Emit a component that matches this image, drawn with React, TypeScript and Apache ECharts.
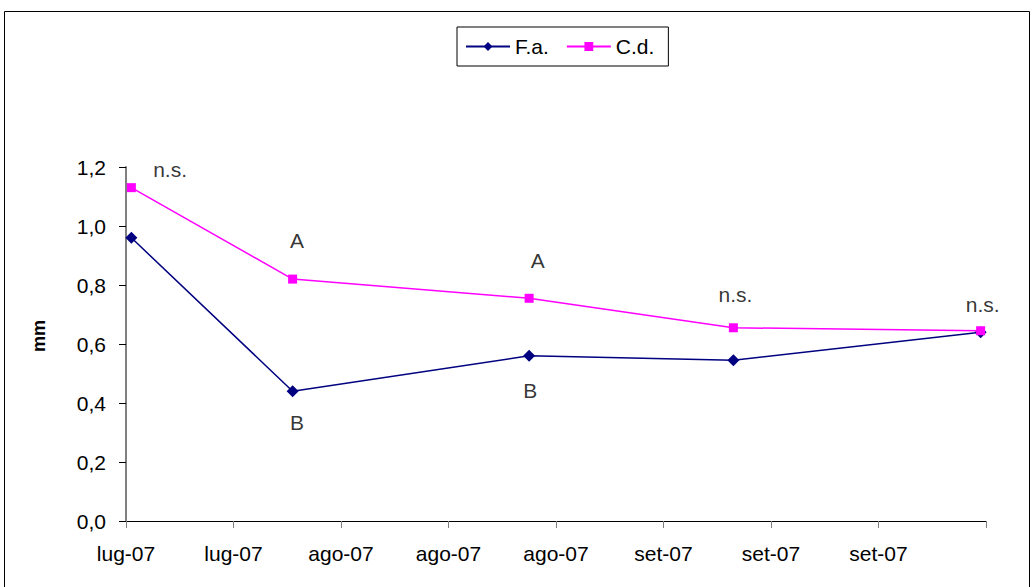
import React, { useEffect, useRef } from "react";
import * as echarts from "echarts";

const xLabels = ["lug-07", "lug-07", "ago-07", "ago-07", "ago-07", "set-07", "set-07", "set-07", ""];
const days = [0.5, 15.5, 37.5, 56.5, 79.5];
const faValues = [0.96, 0.44, 0.56, 0.545, 0.64];
const cdValues = [1.13, 0.82, 0.755, 0.655, 0.645];
const yTicks = [0, 0.2, 0.4, 0.6, 0.8, 1.0, 1.2];
const annotations: { x: number; y: number; text: string }[] = [
  { x: 4.1, y: 1.19, text: "n.s." },
  { x: 15.9, y: 0.95, text: "A" },
  { x: 15.9, y: 0.335, text: "B" },
  { x: 38.3, y: 0.883, text: "A" },
  { x: 37.6, y: 0.444, text: "B" },
  { x: 56.7, y: 0.768, text: "n.s." },
  { x: 79.7, y: 0.734, text: "n.s." },
];

const FONT = "'Liberation Sans', Arial, sans-serif";
const FS = 21;

export default function App() {
  const ref = useRef<HTMLDivElement>(null);
  useEffect(() => {
    if (!ref.current) return;
    const chart = echarts.init(ref.current, undefined, { renderer: "svg" });
    chart.setOption({
      animation: false,
      backgroundColor: "#ffffff",
      textStyle: { fontFamily: FONT },
      graphic: [
        {
          type: "rect",
          shape: { x: 4.5, y: 11.5, width: 1025, height: 600 },
          style: { fill: "none", stroke: "#000", lineWidth: 1 },
          silent: true,
        },
      ],
      legend: {
        left: 457,
        top: 27,
        orient: "horizontal",
        borderColor: "#000",
        borderWidth: 1,
        padding: [9, 14, 9, 8],
        itemGap: 17,
        itemWidth: 44,
        itemHeight: 11,
        textStyle: { fontSize: FS, color: "#000", fontFamily: FONT },
        data: ["F.a.", "C.d."],
      },
      grid: { left: 126, right: 46, top: 167, bottom: 66, containLabel: false },
      xAxis: {
        type: "value",
        min: 0,
        max: 80,
        interval: 10,
        axisLine: { show: true, lineStyle: { color: "#000", width: 1 } },
        axisTick: { show: true, length: 7, lineStyle: { color: "#808080" } },
        splitLine: { show: false },
        axisLabel: {
          fontSize: FS,
          color: "#000",
          fontFamily: FONT,
          margin: 22,
          formatter: (v: number) => xLabels[Math.round(v / 10)] ?? "",
          showMaxLabel: true,
        },
      },
      yAxis: {
        type: "value",
        min: yTicks[0],
        max: yTicks[yTicks.length - 1],
        interval: 0.2,
        name: "mm",
        nameLocation: "middle",
        nameGap: 78,
        nameRotate: 90,
        nameTextStyle: {
          fontSize: 18,
          fontWeight: "bold",
          color: "#000",
          fontFamily: FONT,
          padding: [0, 0, 0, 16],
        },
        axisLine: { show: true, lineStyle: { color: "#808080", width: 2 } },
        axisTick: { show: true, inside: false, length: 7, lineStyle: { color: "#000" } },
        splitLine: { show: false },
        axisLabel: {
          fontSize: FS,
          color: "#000",
          fontFamily: FONT,
          margin: 20,
          formatter: (v: number) => v.toFixed(1).replace(".", ","),
        },
      },
      series: [
        {
          name: "F.a.",
          type: "line",
          data: days.map((d, i) => [d, faValues[i]]),
          symbol: "diamond",
          symbolSize: 12,
          lineStyle: { color: "#000080", width: 1.5 },
          itemStyle: { color: "#000080" },
          z: 2,
        },
        {
          name: "C.d.",
          type: "line",
          data: days.map((d, i) => [d, cdValues[i]]),
          symbol: "rect",
          symbolSize: 9,
          lineStyle: { color: "#FF00FF", width: 1.5 },
          itemStyle: { color: "#FF00FF" },
          z: 3,
        },
        {
          name: "annotations",
          type: "scatter",
          data: annotations.map((a) => ({ value: [a.x, a.y], name: a.text })),
          symbolSize: 0,
          silent: true,
          label: {
            show: true,
            position: "inside",
            formatter: (p: any) => p.name,
            fontSize: FS,
            color: "#000",
            fontFamily: FONT,
          },
          z: 4,
        },
      ],
    });
    return () => chart.dispose();
  }, []);
  return (
    <div
      ref={ref}
      style={{ position: "fixed", left: 0, top: 0, width: 1032, height: 587 }}
    />
  );
}
